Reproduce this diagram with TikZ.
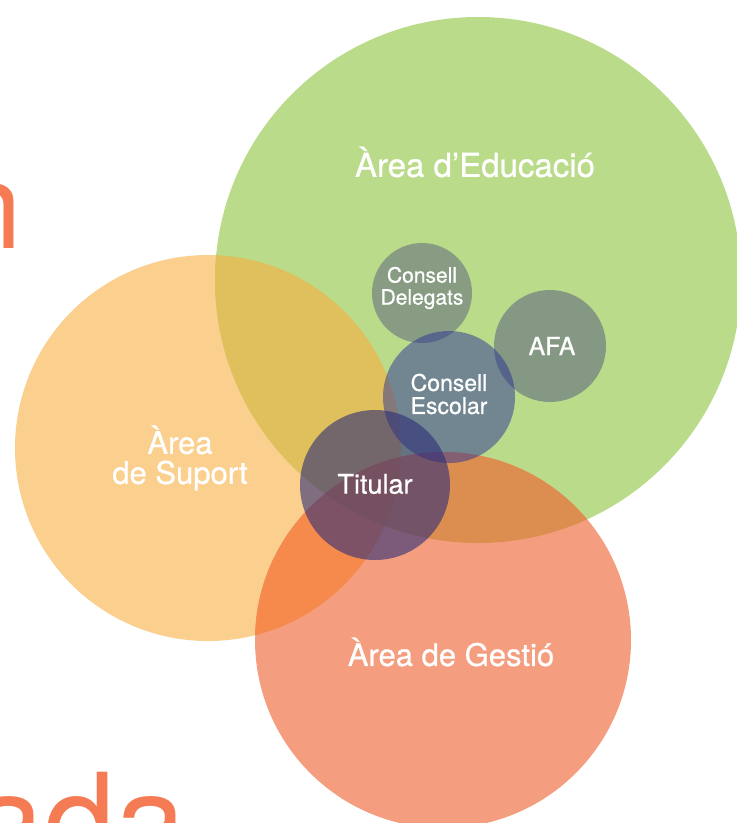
\documentclass[tikz,border=0pt]{standalone}
\usepackage{fontspec}
\setmainfont{TeX Gyre Heros}
\newfontfamily\labelfont[FakeBold=0.7]{TeX Gyre Heros}
\usetikzlibrary{positioning}

\definecolor{edugreen}{HTML}{BADB8A}
\definecolor{supyellow}{HTML}{FBCF8E}
\definecolor{gestsalmon}{HTML}{F49E7F}
\definecolor{edusup}{HTML}{E0C05C}
\definecolor{supgest}{HTML}{F58A4C}
\definecolor{edugest}{HTML}{DB8E50}
\definecolor{allthree}{HTML}{E2853F}
\definecolor{slate}{RGB}{45,45,120}
\definecolor{escblue}{RGB}{42,50,150}
\definecolor{titleorange}{HTML}{F47B53}

\begin{document}
\begin{tikzpicture}[x=1pt,y=-1pt,
  areaname/.style={text=white, align=center, inner sep=0pt},
  bodyname/.style={text=white, align=center, inner sep=0pt},
  bigletters/.style={text=titleorange, inner sep=0pt}]
\useasboundingbox (0,0) rectangle (737,823);
\clip (0,0) rectangle (737,823);

% centres
\coordinate (edu) at (478,280);
\coordinate (sup) at (208,448);
\coordinate (gest) at (443,640);
\coordinate (delegats) at (422,293);
\coordinate (afa) at (550,346);
\coordinate (escolar) at (449,397);
\coordinate (titular) at (375,485);

% title fragments
\node[bigletters, anchor=base east, font=\fontsize{120}{120}\selectfont] (titlen) at (22,248) {n};
\node[bigletters, anchor=base west, font=\fontsize{128}{128}\selectfont] (titleada) at (-27,865) {ada};

% the three areas
\fill[supyellow] (sup) circle[radius=193pt];
\fill[edugreen] (edu) circle[radius=263pt];
\fill[gestsalmon] (gest) circle[radius=188pt];
\begin{scope}
  \clip (gest) circle[radius=188pt];
  \fill[supgest] (sup) circle[radius=193pt];
\end{scope}
\begin{scope}
  \clip (edu) circle[radius=263pt];
  \fill[edusup] (sup) circle[radius=193pt];
  \fill[edugest] (gest) circle[radius=188pt];
  \clip (gest) circle[radius=188pt];
  \fill[allthree] (sup) circle[radius=193pt];
\end{scope}

% the bodies
\fill[slate, opacity=.36] (delegats) circle[radius=50pt];
\fill[slate, opacity=.38] (afa) circle[radius=56pt];
\fill[escblue, opacity=.5] (escolar) circle[radius=66pt];
\fill[slate, opacity=.6] (titular) circle[radius=75pt];

% labels
\node[areaname, font=\labelfont\fontsize{33}{33}\selectfont] (eduname) at (475,162) {Àrea d’Educació};
\node[areaname, font=\labelfont\fontsize{31}{30}\selectfont] (supname) at (180,458) {Àrea\\de Suport};
\node[areaname, font=\labelfont\fontsize{31}{31}\selectfont] (gestname) at (451,652) {Àrea de Gestió};
\node[bodyname, font=\labelfont\fontsize{21}{22}\selectfont] (delegatsname) at (422,288) {Consell\\Delegats};
\node[bodyname, font=\labelfont\fontsize{25}{25}\selectfont] (afaname) at (552,346) {AFA};
\node[bodyname, font=\labelfont\fontsize{23}{23}\selectfont] (escolarname) at (449,394) {Consell\\Escolar};
\node[bodyname, font=\labelfont\fontsize{27}{27}\selectfont] (titularname) at (375,484) {Titular};
\end{tikzpicture}
\end{document}
